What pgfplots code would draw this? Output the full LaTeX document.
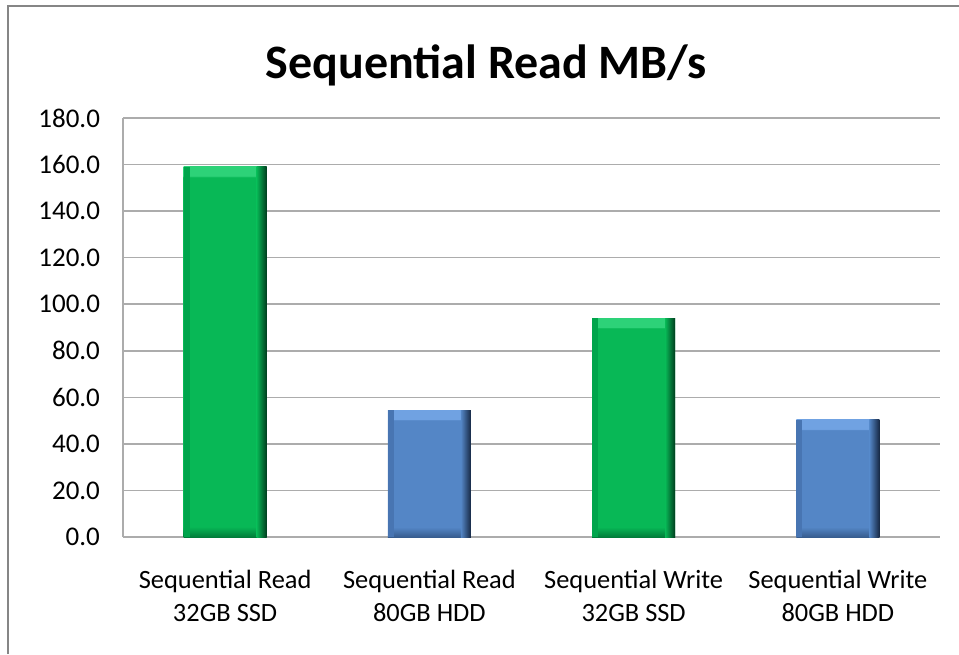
\documentclass[border=0pt]{standalone}
\usepackage{pgfplots}
\pgfplotsset{compat=1.18}
\usepackage{fontspec}
\setmainfont{Carlito}
\definecolor{gface}{RGB}{8,184,86}
\definecolor{glight}{RGB}{45,210,120}
\definecolor{gdark}{RGB}{0,60,30}
\definecolor{gbot}{RGB}{0,125,58}
\definecolor{gleft}{RGB}{0,165,76}
\definecolor{bface}{RGB}{84,134,198}
\definecolor{blight}{RGB}{112,162,226}
\definecolor{bdark}{RGB}{22,40,68}
\definecolor{bbot}{RGB}{55,93,143}
\definecolor{bleft}{RGB}{72,117,178}
\definecolor{gridc}{RGB}{172,172,172}
\definecolor{framec}{RGB}{134,134,134}
% vertical shadings (path box maps to 25bp..75bp): bottom dark strip, face, top light strip
\pgfdeclareverticalshading{gA}{100bp}{color(0bp)=(gbot); color(25bp)=(gbot); color(26.4bp)=(gface); color(73.6bp)=(gface); color(73.8bp)=(glight); color(75bp)=(glight); color(100bp)=(glight)}
\pgfdeclareverticalshading{gB}{100bp}{color(0bp)=(gbot); color(25bp)=(gbot); color(27.3bp)=(gface); color(72.7bp)=(gface); color(72.9bp)=(glight); color(75bp)=(glight); color(100bp)=(glight)}
\pgfdeclareverticalshading{bA}{100bp}{color(0bp)=(bbot); color(25bp)=(bbot); color(28.9bp)=(bface); color(71.1bp)=(bface); color(71.3bp)=(blight); color(75bp)=(blight); color(100bp)=(blight)}
\pgfdeclareverticalshading{bB}{100bp}{color(0bp)=(bbot); color(25bp)=(bbot); color(29.3bp)=(bface); color(70.7bp)=(bface); color(70.9bp)=(blight); color(75bp)=(blight); color(100bp)=(blight)}
\pgfplotsset{
  leftstrip/.style={draw=none, fill=#1, bar width=3pt, bar shift=-19.25pt, forget plot},
  rightstrip/.style 2 args={draw=none, shade, left color=#1, right color=#2, bar width=5pt, bar shift=18.25pt, forget plot},
}
\begin{document}
\begin{tikzpicture}
\useasboundingbox (0,0) rectangle (479.5pt,327pt);
\draw[framec, line width=1.2pt] (4pt,0) -- (4pt,324pt) -- (479.5pt,324pt);
\node[font=\fontsize{24}{28}\selectfont\bfseries, anchor=base] at (243pt,287.5pt) {Sequential Read MB/s};
\begin{axis}[
  at={(61.5pt,58.5pt)}, anchor=south west,
  scale only axis, width=408.5pt, height=209.5pt,
  xmin=-0.5, xmax=3.5, ymin=0, ymax=180,
  ytick={0,20,...,180},
  /pgf/number format/assume math mode=true,
  ticklabel style={font=\fontsize{13.5}{16}\selectfont},
  yticklabel style={/pgf/number format/fixed, /pgf/number format/fixed zerofill, /pgf/number format/precision=1, xshift=-8pt},
  xtick={0,1,2,3},
  xticklabels={{Sequential Read\\32GB SSD},{Sequential Read\\80GB HDD},{Sequential Write\\32GB SSD},{Sequential Write\\80GB HDD}},
  xticklabel style={align=center, font=\fontsize{13.2}{16.5}\selectfont, yshift=-13pt},
  major tick length=0pt,
  ymajorgrids, grid style={gridc, line width=0.75pt},
  axis line style={gridc, line width=0.75pt},
  axis x line*=bottom, axis y line*=left,
  ybar, bar width=41.5pt, bar shift=0pt,
]
% main bars
\addplot[draw=none, shade, shading=gA] coordinates {(0,159.0)};
\addplot[draw=none, shade, shading=bA] coordinates {(1,54.5)};
\addplot[draw=none, shade, shading=gB] coordinates {(2,94.0)};
\addplot[draw=none, shade, shading=bB] coordinates {(3,50.3)};
% bevel edge strips (same values)
\addplot[leftstrip=gleft] coordinates {(0,159.0)};
\addplot[leftstrip=bleft] coordinates {(1,54.5)};
\addplot[leftstrip=gleft] coordinates {(2,94.0)};
\addplot[leftstrip=bleft] coordinates {(3,50.3)};
\addplot[rightstrip={gface}{gdark}] coordinates {(0,159.0)};
\addplot[rightstrip={bface}{bdark}] coordinates {(1,54.5)};
\addplot[rightstrip={gface}{gdark}] coordinates {(2,94.0)};
\addplot[rightstrip={bface}{bdark}] coordinates {(3,50.3)};
\end{axis}
\end{tikzpicture}
\end{document}
